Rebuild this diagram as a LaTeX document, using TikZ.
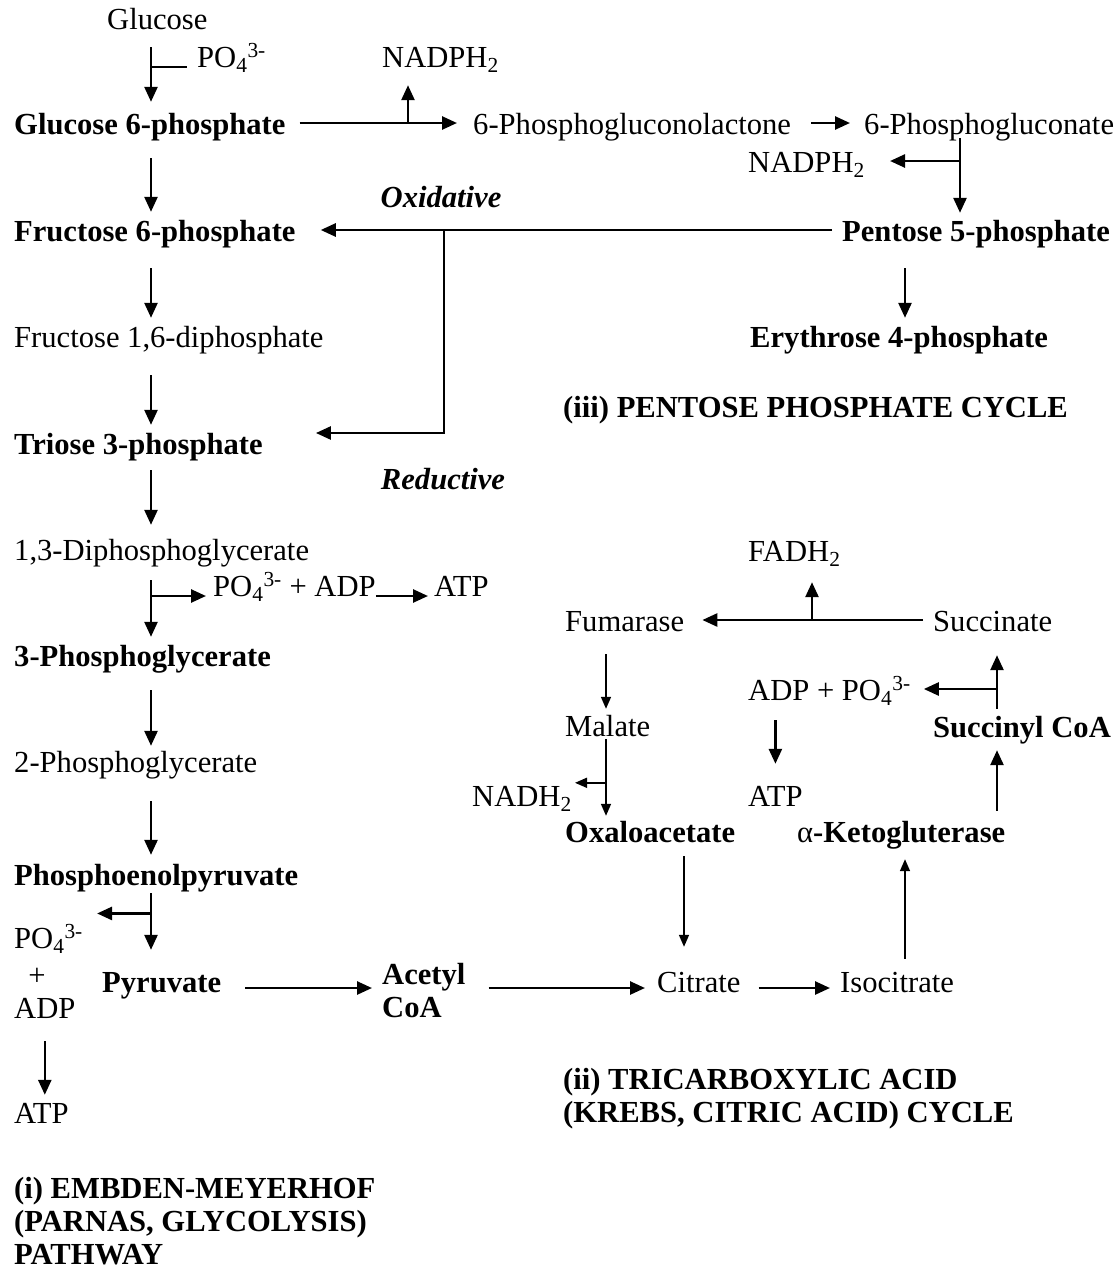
\documentclass[tikz,border=0pt]{standalone}
\usepackage{fontspec}
\setmainfont{Liberation Serif}
\usetikzlibrary{arrows.meta,calc}

\newcommand{\phos}{PO\textsubscript{4}\textsuperscript{3-}}

\begin{document}
\begin{tikzpicture}[x=1pt, y=-1pt,
    met/.style={anchor=base west, inner sep=0pt, text height=23pt, text depth=1pt, font=\fontsize{30.6}{33}\selectfont},
    key/.style={met, font=\fontsize{30.6}{33}\selectfont\bfseries},
    mode/.style={anchor=base, inner sep=0pt, font=\fontsize{30.6}{33}\selectfont\bfseries\itshape},
    block/.style={anchor=west, inner sep=0pt, align=left, font=\fontsize{30.6}{33}\selectfont\bfseries},
    flow/.style={-{Triangle[length=15pt, width=13pt]}, line width=2.6pt},
    slim/.style={-{Triangle[length=12pt, width=10pt]}, line width=1.6pt},
    stem/.style={line width=1.5pt}
  ]
    \useasboundingbox (0,0) rectangle (1117,1269);

    % Columns for the vertical arrows
    \coordinate (lc) at (151,0);
    \coordinate (nc) at (408,0);
    \coordinate (rc) at (444,0);
    \coordinate (mc) at (606,0);
    \coordinate (oc) at (684,0);
    \coordinate (fc) at (812,0);
    \coordinate (ec) at (905,0);
    \coordinate (kc) at (905,0);
    \coordinate (pc) at (960,0);
    \coordinate (sc) at (997,0);

    % Glycolysis
    \node[met] (glc) at (107,29) {Glucose};
    \node[met] (pia) at (197,67) {\phos};
    \node[key] (g6p) at (14,134) {Glucose 6-phosphate};
    \node[key] (f6p) at (14,241) {Fructose 6-phosphate};
    \node[met] (fbp) at (14,347) {Fructose 1,6-diphosphate};
    \node[key] (gap) at (14,454) {Triose 3-phosphate};
    \node[met] (bpg) at (14,560) {1,3-Diphosphoglycerate};
    \node[met] (pib) at (213,596) {\phos{} + ADP};
    \node[met] (atpa) at (434,596) {ATP};
    \node[key] (pg3) at (14,666) {3-Phosphoglycerate};
    \node[met] (pg2) at (14,772) {2-Phosphoglycerate};
    \node[key] (pep) at (14,885) {Phosphoenolpyruvate};
    \node[met] (pic) at (14,948) {\phos};
    \node[met, anchor=base] (plus) at (37,985) {+};
    \node[met] (adpa) at (14,1018) {ADP};
    \node[met] (atpc) at (14,1123) {ATP};
    \node[key] (pyr) at (102,992) {Pyruvate};
    \node[block] (acoa) at (382,991) {Acetyl\\CoA};
    \node[block] (emp) at (14,1221) {(i) EMBDEN-MEYERHOF\\(PARNAS, GLYCOLYSIS)\\PATHWAY};

    % Pentose phosphate cycle
    \node[met] (nadpa) at (382,67) {NADPH\textsubscript{2}};
    \node[met] (pgl) at (473,134) {6-Phosphogluconolactone};
    \node[met] (pgn) at (864,134) {6-Phosphogluconate};
    \node[met] (nadpb) at (748,172) {NADPH\textsubscript{2}};
    \node[mode] (oxi) at (441,207) {Oxidative};
    \node[key] (r5p) at (842,241) {Pentose 5-phosphate};
    \node[key] (e4p) at (750,347) {Erythrose 4-phosphate};
    \node[key] (ppc) at (563,417) {(iii) PENTOSE PHOSPHATE CYCLE};
    \node[mode] (red) at (443,489) {Reductive};

    % Tricarboxylic acid cycle
    \node[met] (fadh) at (748,561) {FADH\textsubscript{2}};
    \node[met] (fum) at (565,631) {Fumarase};
    \node[met] (suc) at (933,631) {Succinate};
    \node[met] (adpb) at (748,700) {ADP + \phos};
    \node[met] (mal) at (565,736) {Malate};
    \node[key] (scoa) at (933,737) {Succinyl CoA};
    \node[met] (nadh) at (472,806) {NADH\textsubscript{2}};
    \node[met] (atpb) at (748,806) {ATP};
    \node[key] (oaa) at (565,842) {Oxaloacetate};
    \node[key] (akg) at (797,842) {{\mdseries α}-Ketogluterase};
    \node[met] (cit) at (657,992) {Citrate};
    \node[met] (icit) at (840,992) {Isocitrate};
    \node[block] (tca) at (563,1099) {(ii) TRICARBOXYLIC ACID\\(KREBS, CITRIC ACID) CYCLE};

    % Glycolysis arrows
    \draw[flow, shorten <=17pt, shorten >=9pt] (lc |- glc.south) -- (lc |- g6p.north);
    \draw[stem] (lc |- pia.base) -- ([xshift=-10pt]pia.base west);
    \draw[flow, shorten <=23pt, shorten >=6pt] (lc |- g6p.south) -- (lc |- f6p.north);
    \draw[flow, shorten <=26pt, shorten >=6pt] (lc |- f6p.south) -- (lc |- fbp.north);
    \draw[flow, shorten <=27pt, shorten >=6pt] (lc |- fbp.south) -- (lc |- gap.north);
    \draw[flow, shorten <=15pt, shorten >=12pt] (lc |- gap.south) -- (lc |- bpg.north);
    \draw[flow, shorten <=19pt, shorten >=6pt] (lc |- bpg.south) -- (lc |- pg3.north);
    \draw[flow, shorten >=7pt] (lc |- pib.base west) -- (pib.base west);
    \draw[flow, shorten >=6pt] (pib.base east) -- (atpa.base west);
    \draw[flow, shorten <=23pt, shorten >=3pt] (lc |- pg3.south) -- (lc |- pg2.north);
    \draw[flow, shorten <=28pt, shorten >=7pt] (lc |- pg2.south) -- (lc |- pep.north);
    \draw[flow, shorten <=7pt, shorten >=19pt] (lc |- pep.south) -- (lc |- pyr.north);
    \coordinate (pb) at ($(lc |- pep.south)!0.33!(lc |- pyr.north)$);
    \draw[flow, shorten >=14pt] (pb) -- (pb -| pic.east);
    \draw[flow, shorten <=22pt, shorten >=5pt] (adpa.south) -- (adpa.south |- atpc.north);
    \coordinate (pa) at ($(pyr.base east)+(0,-4)$);
    \draw[flow, shorten <=24pt, shorten >=10pt] (pa) -- (pa -| acoa.west);

    % Pentose phosphate arrows
    \draw[flow, shorten <=14pt, shorten >=16pt] (g6p.east) -- (pgl.west);
    \draw[flow, shorten >=17pt] (nc |- g6p.east) -- (nc |- nadpa.south);
    \draw[flow, shorten <=20pt, shorten >=14pt] (pgl.east) -- (pgn.west);
    \draw[flow, shorten <=3pt, shorten >=5pt] (pc |- pgn.south) -- (pc |- r5p.north);
    \draw[flow, shorten >=25pt] (pc |- nadpb.east) -- (nadpb.east);
    \draw[flow, shorten <=10pt, shorten >=25pt] (r5p.west) -- (f6p.east);
    \draw[flow, shorten >=53pt] (rc |- f6p.east) |- ([yshift=10pt]gap.east);
    \draw[flow, shorten <=26pt, shorten >=6pt] (ec |- r5p.south) -- (ec |- e4p.north);

    % Tricarboxylic acid arrows
    \draw[flow, shorten <=23pt, shorten >=12pt] (pa -| acoa.east) -- (pa -| cit.west);
    \draw[flow, shorten <=18pt, shorten >=10pt] (pa -| cit.east) -- (pa -| icit.west);
    \draw[slim, shorten <=10pt, shorten >=16pt] (kc |- icit.north) -- (kc |- akg.south);
    \draw[flow, shorten <=8pt, shorten >=12pt] (sc |- akg.north) -- (sc |- scoa.south);
    \draw[flow, shorten <=5pt, shorten >=23pt] (sc |- scoa.north) -- (sc |- suc.south);
    \draw[flow, shorten >=13pt] (sc |- adpb.east) -- (adpb.east);
    \draw[flow, shorten <=19pt, shorten >=19pt] (atpb.north |- adpb.south) -- (atpb.north);
    \draw[flow, shorten <=10pt, shorten >=18pt] (suc.west) -- (fum.east);
    \draw[flow, shorten >=20pt] (fc |- suc.west) -- (fc |- fadh.south);
    \draw[slim, shorten <=22pt, shorten >=4pt] (mc |- fum.south) -- (mc |- mal.north);
    \draw[slim, shorten <=2pt, shorten >=3pt] (mc |- mal.south) -- (mc |- oaa.north);
    \draw[slim, shorten >=3pt] (mc |- nadh.north east) -- (nadh.north east);
    \draw[slim, shorten <=13pt, shorten >=22pt] (oc |- oaa.south) -- (oc |- cit.north);
\end{tikzpicture}
\end{document}
